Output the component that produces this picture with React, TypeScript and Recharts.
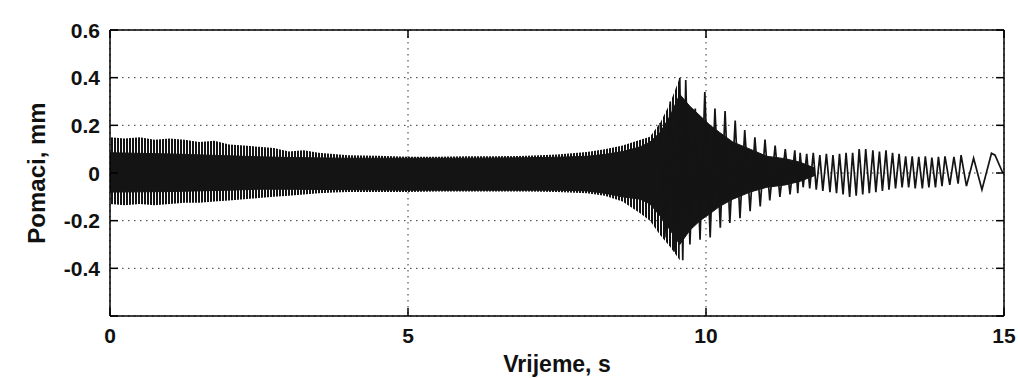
import React from 'react';
import { ComposedChart, Area, Line, XAxis, YAxis, CartesianGrid, Label } from 'recharts';

// axis ticks
const xTicks = [0, 5, 10, 15];
const xTickLabels = ['0', '5', '10', '15'];
const yTicks = [-0.6, -0.4, -0.2, 0, 0.2, 0.4, 0.6];
const yTickLabels = ['', '-0.4', '-0.2', '0', '0.2', '0.4', '0.6'];

// outer (spiky) envelope of the dense oscillation
const outerTime = [0, 0.25, 0.5, 0.75, 1, 1.25, 1.5, 1.75, 2, 2.25, 2.5, 2.75, 3, 3.25, 3.5, 3.75, 4, 4.5, 5, 5.5, 6, 6.5, 7, 7.5, 8, 8.3, 8.6, 8.9, 9.06, 9.23, 9.4, 9.56];
const outerHigh = [0.15, 0.145, 0.15, 0.14, 0.145, 0.14, 0.13, 0.135, 0.12, 0.115, 0.11, 0.105, 0.09, 0.095, 0.085, 0.08, 0.075, 0.072, 0.068, 0.068, 0.07, 0.07, 0.072, 0.078, 0.088, 0.1, 0.115, 0.14, 0.152, 0.21, 0.295, 0.4];
const outerLow = [-0.13, -0.135, -0.13, -0.135, -0.13, -0.125, -0.125, -0.12, -0.115, -0.11, -0.105, -0.1, -0.095, -0.09, -0.085, -0.082, -0.08, -0.08, -0.08, -0.078, -0.078, -0.078, -0.078, -0.08, -0.085, -0.095, -0.12, -0.17, -0.2, -0.26, -0.31, -0.366];

// solid core of the dense oscillation
const coreTime = [0, 1, 2, 2.5, 3, 4, 5, 6, 7, 7.5, 8, 8.3, 8.6, 8.9, 9.06, 9.23, 9.4, 9.56, 9.73, 9.9, 10.07, 10.23, 10.45, 10.74, 11.02, 11.33, 11.58, 11.83];
const coreHigh = [0.085, 0.08, 0.072, 0.068, 0.065, 0.062, 0.062, 0.062, 0.064, 0.066, 0.07, 0.078, 0.09, 0.11, 0.13, 0.17, 0.24, 0.33, 0.28, 0.24, 0.2, 0.17, 0.13, 0.1, 0.07, 0.06, 0.045, 0.02];
const coreLow = [-0.08, -0.078, -0.072, -0.068, -0.068, -0.07, -0.072, -0.072, -0.072, -0.072, -0.075, -0.085, -0.1, -0.11, -0.13, -0.18, -0.24, -0.3, -0.24, -0.2, -0.17, -0.14, -0.11, -0.08, -0.06, -0.05, -0.035, -0.01];

// individually visible peaks and troughs
const waveTime = [
  9.23, 9.31, 9.4, 9.48, 9.56, 9.61, 9.66, 9.73, 9.82, 9.9, 9.98, 10.07, 10.15, 10.24, 10.32, 10.4, 10.49, 10.57, 10.65, 10.74,
  10.82, 10.91, 10.99, 11.07, 11.16, 11.24, 11.33, 11.41, 11.49, 11.54,
  11.58, 11.63, 11.69, 11.74, 11.8, 11.85, 11.91, 11.96, 12.02, 12.08, 12.13, 12.19, 12.24, 12.3, 12.35, 12.41, 12.46, 12.52, 12.57, 12.63,
  12.68, 12.74, 12.8, 12.85, 12.91, 12.96, 13.02, 13.07, 13.13, 13.18, 13.24, 13.29, 13.35, 13.4, 13.46, 13.51, 13.57, 13.63, 13.68, 13.74,
  13.79, 13.85, 13.9, 13.96, 14.01, 14.09, 14.16, 14.23, 14.28, 14.37, 14.49, 14.63, 14.79, 14.85, 14.98,
];
const waveValue = [
  0.21, -0.27, 0.3, -0.33, 0.4, -0.366, 0.39, -0.3, 0.27, -0.28, 0.34, -0.27, 0.27, -0.23, 0.26, -0.21, 0.22, -0.19, 0.18, -0.16,
  0.15, -0.14, 0.14, -0.115, 0.115, -0.1, 0.1, -0.09, 0.095, -0.085,
  0.085, -0.06, 0.08, -0.065, 0.085, -0.07, 0.075, -0.075, 0.08, -0.08, 0.075, -0.085, 0.08, -0.09, 0.085, -0.1, 0.085, -0.095, 0.1, -0.09,
  0.1, -0.085, 0.095, -0.08, 0.09, -0.075, 0.095, -0.07, 0.085, -0.065, 0.08, -0.06, 0.07, -0.06, 0.07, -0.065, 0.068, -0.065, 0.07, -0.06,
  0.065, -0.06, 0.068, -0.055, 0.07, -0.05, 0.068, -0.045, 0.075, -0.055, 0.062, -0.07, 0.083, 0.075, 0.0,
];

const outerData = outerTime.map((t, i) => ({ t, range: [outerLow[i], outerHigh[i]] }));
const coreData = coreTime.map((t, i) => ({ t, range: [coreLow[i], coreHigh[i]] }));
const waveData = waveTime.map((t, i) => ({ t, v: waveValue[i] }));

const FONT = '"Liberation Sans", Arial, Helvetica, sans-serif';
const INK = '#141414';
const TICK_LEN = 8;

const LeftTick = (p: any) => {
  const label = yTickLabels[yTicks.indexOf(p.payload.value)] ?? '';
  return (
    <g>
      <line x1={p.x + 10} x2={p.x + 10 + TICK_LEN} y1={p.y} y2={p.y} stroke="#000" strokeWidth={1.5} />
      <text x={p.x} y={p.y} dy="0.36em" textAnchor="end" fill="#111" fontSize={21} fontWeight={700} fontFamily={FONT}>
        {label}
      </text>
    </g>
  );
};

const RightTick = (p: any) => (
  <line x1={p.x - TICK_LEN} x2={p.x} y1={p.y} y2={p.y} stroke="#000" strokeWidth={1.5} />
);

const BottomTick = (p: any) => {
  const label = xTickLabels[xTicks.indexOf(p.payload.value)] ?? '';
  return (
    <g>
      <line x1={p.x} x2={p.x} y1={p.y - 12} y2={p.y - 12 - TICK_LEN} stroke="#000" strokeWidth={1.5} />
      <text x={p.x} y={p.y} dy="0.72em" textAnchor="middle" fill="#111" fontSize={21} fontWeight={700} fontFamily={FONT}>
        {label}
      </text>
    </g>
  );
};

const TopTick = (p: any) => (
  <line x1={p.x} x2={p.x} y1={p.y} y2={p.y + TICK_LEN} stroke="#000" strokeWidth={1.5} />
);

const XTitle = (props: any) => {
  const vb = props.viewBox;
  return (
    <text x={vb.x + vb.width / 2} y={vb.y + 56} textAnchor="middle" fill="#111" fontSize={23} fontWeight={700} fontFamily={FONT}>
      Vrijeme, s
    </text>
  );
};

const YTitle = (props: any) => {
  const vb = props.viewBox;
  const x = vb.x - 5;
  const y = vb.y + vb.height / 2;
  return (
    <text x={x} y={y} transform={`rotate(-90, ${x}, ${y})`} textAnchor="middle" fill="#111" fontSize={24} fontWeight={700} fontFamily={FONT}>
      Pomaci, mm
    </text>
  );
};

export default function App() {
  return (
    <div style={{ position: 'absolute', left: 0, top: 0, width: 1018, height: 378, background: '#fff' }}>
      <ComposedChart width={1018} height={378} margin={{ top: 29, right: 13, bottom: 22, left: 50 }}>
        <defs>
          <pattern id="spikes" x="0" y="0" width="3" height="8" patternUnits="userSpaceOnUse">
            <rect x="0" y="0" width="2" height="8" fill={INK} />
          </pattern>
        </defs>
        <CartesianGrid stroke="#333" strokeDasharray="1.5 4.5" strokeWidth={1} />
        <XAxis
          xAxisId={0}
          type="number"
          dataKey="t"
          domain={[0, 15]}
          ticks={xTicks}
          allowDataOverflow
          orientation="bottom"
          height={40}
          tickSize={0}
          tickMargin={12}
          tickLine={false}
          stroke="#000"
          strokeWidth={1.5}
          tick={BottomTick}
        >
          <Label content={XTitle} />
        </XAxis>
        <XAxis
          xAxisId="top"
          type="number"
          dataKey="t"
          domain={[0, 15]}
          ticks={xTicks}
          allowDataOverflow
          orientation="top"
          height={1}
          tickSize={0}
          tickMargin={0}
          tickLine={false}
          stroke="#000"
          strokeWidth={1.5}
          tick={TopTick}
        />
        <YAxis
          yAxisId={0}
          type="number"
          domain={[-0.6, 0.6]}
          ticks={yTicks}
          allowDataOverflow
          width={60}
          tickSize={0}
          tickMargin={10}
          tickLine={false}
          stroke="#000"
          strokeWidth={1.5}
          tick={LeftTick}
        >
          <Label content={YTitle} />
        </YAxis>
        <YAxis
          yAxisId="right"
          orientation="right"
          type="number"
          domain={[-0.6, 0.6]}
          ticks={yTicks}
          allowDataOverflow
          width={1}
          tickSize={0}
          tickMargin={0}
          tickLine={false}
          stroke="#000"
          strokeWidth={1.5}
          tick={RightTick}
        />
        <Area
          data={outerData}
          dataKey="range"
          xAxisId={0}
          yAxisId={0}
          type="linear"
          stroke="none"
          fill="url(#spikes)"
          fillOpacity={1}
          isAnimationActive={false}
        />
        <Area
          data={coreData}
          dataKey="range"
          xAxisId={0}
          yAxisId={0}
          type="linear"
          stroke={INK}
          strokeWidth={1}
          fill={INK}
          fillOpacity={1}
          isAnimationActive={false}
        />
        <Line
          data={waveData}
          dataKey="v"
          xAxisId={0}
          yAxisId={0}
          type="linear"
          stroke={INK}
          strokeWidth={1.7}
          dot={false}
          isAnimationActive={false}
        />
      </ComposedChart>
    </div>
  );
}
